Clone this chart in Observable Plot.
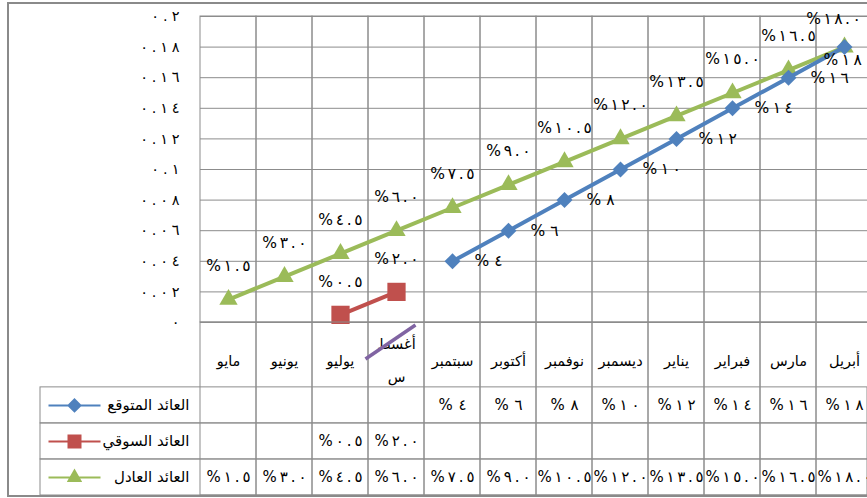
<!DOCTYPE html>
<html><head><meta charset="utf-8">
<script src="https://cdn.jsdelivr.net/npm/d3@7"></script>
<script src="https://cdn.jsdelivr.net/npm/@observablehq/plot@0.6"></script>
<style>
html,body{margin:0;padding:0;background:#fff;overflow:hidden;width:867px;height:498px}
#wrap{position:relative;width:867px;height:498px}
#frame{position:absolute;left:7px;top:2px;width:880px;height:491px;border:2px solid #8a8a8a;border-right:none}
#topChart{position:absolute;left:0;top:0}
#botTable{position:absolute;left:0;top:322px}
svg{overflow:visible}
</style></head><body>
<div id="wrap"><div id="topChart"></div><div id="botTable"></div><div id="frame"></div></div>
<script>
const months = ["مايو","يونيو","يوليو","أغسطس","سبتمبر","أكتوبر","نوفمبر","ديسمبر","يناير","فبراير","مارس","أبريل"];
const seriesNames = ["العائد المتوقع","العائد السوقي","العائد العادل"];
const expected = [null,null,null,null,0.04,0.06,0.08,0.10,0.12,0.14,0.16,0.18];
const market   = [null,null,0.005,0.02,null,null,null,null,null,null,null,null];
const fair     = [0.015,0.03,0.045,0.06,0.075,0.09,0.105,0.12,0.135,0.15,0.165,0.18];
const yTicks = [0,0.02,0.04,0.06,0.08,0.10,0.12,0.14,0.16,0.18,0.20];
const annotatedMonth = "أغسطس";
const colors = ["#4F81BD","#C0504D","#9BBB59"];
const grid = "#8c8c8c";
const font = "DejaVu Sans";

const arDigits = s => String(s).replace(/[0-9]/g, d => "٠١٢٣٤٥٦٧٨٩"[+d]);
const pctInt = v => "%" + arDigits(Math.round(v * 100));
const pct1 = v => "%" + arDigits((v * 100).toFixed(1));
const formats = [pctInt, pct1, pct1];
const seriesValues = [expected, market, fair];
const rows = seriesValues.flatMap((vals, s) =>
  vals.map((v, i) => v == null ? null : {s, i, name: seriesNames[s], month: months[i], value: v, label: formats[s](v)}).filter(Boolean));
const bySeries = s => rows.filter(d => d.s === s);
const lastIdx = months.length - 1;
const notLast = s => bySeries(s).filter(d => d.i < lastIdx);
const onlyLast = s => bySeries(s).filter(d => d.i === lastIdx);

const markers = [d3.symbolDiamond2, d3.symbolSquare, d3.symbolTriangle];
const markerR = [7.2, 10.3, 6.8];
const legendSize = [92, 144, 62];

const xOpts = {type: "band", domain: months, range: [200, 872], padding: 0, axis: null};
const lbl = {x: "month", y: "value", text: "label", fontSize: 15.5, ariaDescription: "num"};

const chartPlot = Plot.plot({
  width: 867, height: 323,
  marginLeft: 200, marginRight: 0, marginTop: 16, marginBottom: 1,
  style: {fontFamily: font, fontSize: "14px", background: "transparent", overflow: "visible"},
  x: xOpts,
  y: {domain: [0, 0.2], axis: null},
  marks: [
    Plot.gridY(yTicks, {stroke: grid, strokeOpacity: 1}),
    Plot.barY(months, {x: d => d, y: 0.2, fill: "none", stroke: grid}),
    Plot.axisY(yTicks, {tickSize: 0, tickPadding: 21, label: null, tickFormat: v => arDigits(d3.format("~g")(v)), fontSize: 14.5}),
    ...[2, 1, 0].flatMap(s => [
      Plot.line(bySeries(s), {x: "month", y: "value", stroke: colors[s], strokeWidth: 4}),
      Plot.dot(bySeries(s), {x: "month", y: "value", symbol: markers[s], r: markerR[s], fill: colors[s], stroke: "none"})
    ]),
    Plot.text(notLast(2), {...lbl, dy: -34}),
    Plot.text(onlyLast(2), {...lbl, dy: -28, dx: -11}),
    Plot.text(bySeries(1), {...lbl, dy: -33}),
    Plot.text(notLast(0), {...lbl, dx: 22, textAnchor: "start"}),
    Plot.text(onlyLast(0), {...lbl, dx: -21, dy: 13, textAnchor: "start"})
  ]
});
document.getElementById("topChart").appendChild(chartPlot);

// table below the chart: category row (1.8 units) then one row per series (1 unit each)
const catH = 1.8;
const tableRows = seriesNames.map((name, s) => ({s, name, y1: catH + s, y2: catH + s + 1}));
const swatch = s => ({draw(ctx) { ctx.moveTo(-26, 0); ctx.lineTo(26, 0); markers[s].draw(ctx, legendSize[s]); }});
const strokeSym = {draw(ctx) { ctx.moveTo(-25, 17); ctx.lineTo(25, -17); }};
const monthLabel = m => m === "أغسطس" ? "أغسط\nس" : m;

const tablePlot = Plot.plot({
  width: 867, height: 176,
  marginLeft: 40, marginRight: 0, marginTop: 0, marginBottom: 3,
  style: {fontFamily: font, fontSize: "14px", background: "transparent", overflow: "visible"},
  x: xOpts,
  y: {type: "linear", domain: [0, catH + 3], range: [0, 173], axis: null},
  marks: [
    Plot.barY(months, {x: d => d, y1: 0, y2: catH + 3, fill: "none", stroke: grid}),
    Plot.rect(tableRows, {y1: "y1", y2: "y2", fill: "none", stroke: grid}),
    Plot.text(months, {x: d => d, y: catH / 2, text: monthLabel, fontSize: 14.5, lineHeight: 2.3}),
    Plot.dot([annotatedMonth], {x: d => d, y: catH / 2, dx: -6, dy: -13, symbol: strokeSym, fill: "none", stroke: "#8064A2", strokeWidth: 3.5}),
    Plot.text(rows, {x: "month", y: d => catH + d.s + 0.5, text: "label", fontSize: 15, ariaDescription: "num"}),
    Plot.text(tableRows, {y: d => (d.y1 + d.y2) / 2, frameAnchor: "left", dx: 149, textAnchor: "end", text: "name", fontSize: 15}),
    ...[0, 1, 2].map(s => Plot.dot([tableRows[s]], {y: d => (d.y1 + d.y2) / 2, frameAnchor: "left", dx: 34, symbol: swatch(s), fill: colors[s], stroke: colors[s], strokeWidth: 2}))
  ]
});
document.getElementById("botTable").appendChild(tablePlot);

// widen the spacing of the Arabic-Indic numerals as in the reference
function spread(svg, selector, ratio) {
  svg.querySelectorAll(selector).forEach(t => {
    const L = t.getComputedTextLength();
    if (L > 0) { t.setAttribute("textLength", (L * ratio).toFixed(1)); t.setAttribute("lengthAdjust", "spacing"); }
  });
}
spread(chartPlot, 'g[aria-description="num"] text', 1.22);
spread(chartPlot, 'g[aria-label="y-axis tick label"] text', 1.4);
spread(tablePlot, 'g[aria-description="num"] text', 1.25);
</script>
</body></html>
